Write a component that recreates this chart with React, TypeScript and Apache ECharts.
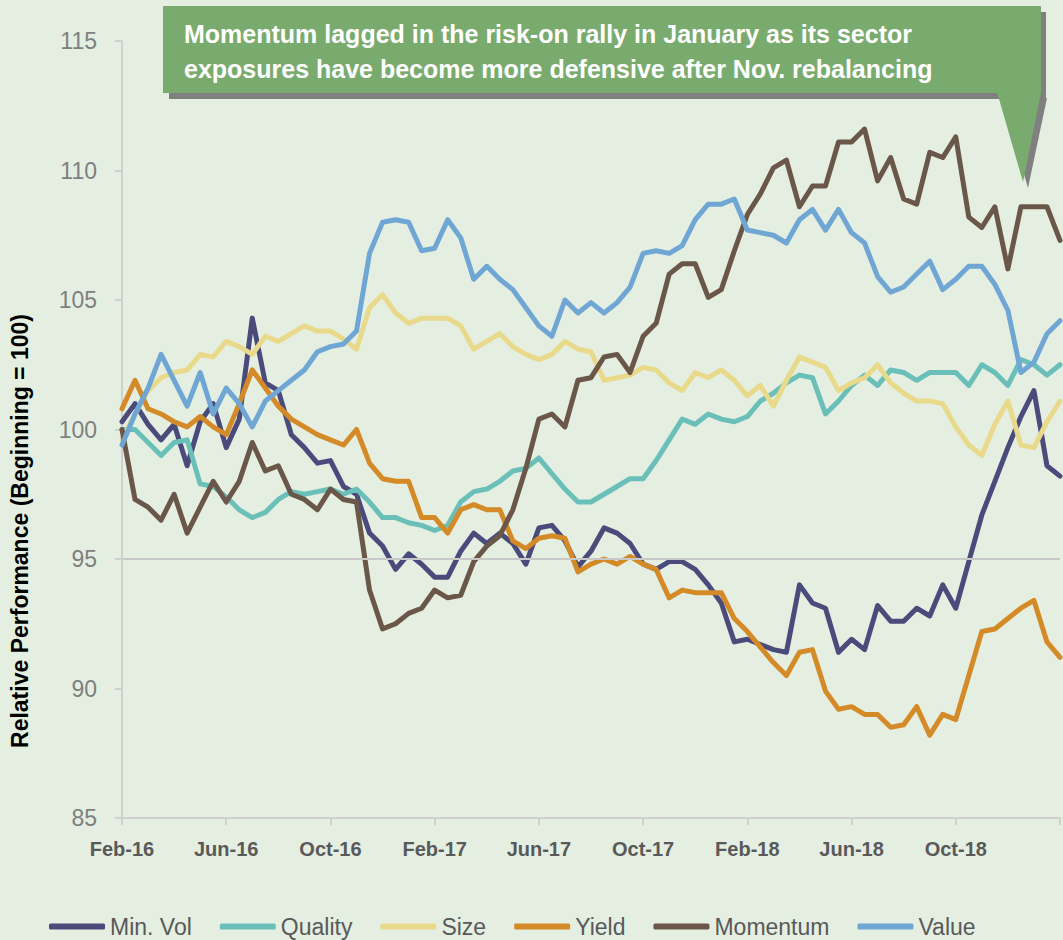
import React, { useEffect, useRef } from "react";
import * as echarts from "echarts";

// Half-month steps from Feb-16 (index 0) to Feb-19 (index 72)
const monthLabels = ["Feb-16", "Jun-16", "Oct-16", "Feb-17", "Jun-17", "Oct-17", "Feb-18", "Jun-18", "Oct-18", ""];

const minVol = [100.3, 101.0, 100.2, 99.6, 100.2, 98.6, 100.3, 101.0, 99.3, 100.4, 104.3, 101.8, 101.5, 99.8, 99.3, 98.7, 98.8, 97.8, 97.5, 96.0, 95.5, 94.6, 95.2, 94.8, 94.3,
  94.3, 95.3, 96.0, 95.6, 96.0, 95.6, 94.8, 96.2, 96.3, 95.7, 94.7, 95.3, 96.2, 96.0, 95.6, 94.8, 94.6, 94.9, 94.9, 94.6, 94.0, 93.3, 91.8,
  91.9, 91.7, 91.5, 91.4, 94.0, 93.3, 93.1, 91.4, 91.9, 91.5, 93.2, 92.6, 92.6, 93.1, 92.8, 94.0, 93.1, 94.9, 96.7, 98.0, 99.3, 100.5, 101.5, 98.6, 98.2];

const quality = [100.0, 100.0, 99.5, 99.0, 99.5, 99.6, 97.9, 97.8, 97.4, 96.9, 96.6, 96.8, 97.3, 97.6, 97.5, 97.6, 97.7, 97.5, 97.7, 97.2, 96.6, 96.6, 96.4, 96.3, 96.1,
  96.3, 97.2, 97.6, 97.7, 98.0, 98.4, 98.5, 98.9, 98.3, 97.7, 97.2, 97.2, 97.5, 97.8, 98.1, 98.1, 98.8, 99.6, 100.4, 100.2, 100.6, 100.4, 100.3, 100.5,
  101.1, 101.4, 101.8, 102.1, 102.0, 100.6, 101.1, 101.7, 102.1, 101.7, 102.3, 102.2, 101.9, 102.2, 102.2, 102.2, 101.7, 102.5, 102.2, 101.7, 102.7, 102.5, 102.1, 102.5];

const size = [99.6, 100.6, 101.5, 102.0, 102.2, 102.3, 102.9, 102.8, 103.4, 103.2, 102.9, 103.6, 103.4, 103.7, 104.0, 103.8, 103.8, 103.5, 103.1, 104.7, 105.2, 104.5, 104.1, 104.3, 104.3,
  104.3, 104.0, 103.1, 103.4, 103.7, 103.2, 102.9, 102.7, 102.9, 103.4, 103.1, 103.0, 101.9, 102.0, 102.1, 102.4, 102.3, 101.8, 101.5, 102.2, 102.0, 102.3, 101.9, 101.3,
  101.7, 100.9, 101.9, 102.8, 102.6, 102.4, 101.5, 101.8, 102.0, 102.5, 101.8, 101.4, 101.1, 101.1, 101.0, 100.1, 99.4, 99.0, 100.2, 101.1, 99.4, 99.3, 100.3, 101.1];

const yieldVals = [100.8, 101.9, 100.8, 100.6, 100.3, 100.1, 100.5, 100.1, 99.8, 101.0, 102.3, 101.6, 100.9, 100.4, 100.1, 99.8, 99.6, 99.4, 100.0, 98.7, 98.1, 98.0, 98.0, 96.6, 96.6,
  96.0, 96.9, 97.1, 96.9, 96.9, 95.7, 95.4, 95.8, 95.9, 95.8, 94.5, 94.8, 95.0, 94.8, 95.1, 94.8, 94.6, 93.5, 93.8, 93.7, 93.7, 93.7, 92.7,
  92.2, 91.6, 91.0, 90.5, 91.4, 91.5, 89.9, 89.2, 89.3, 89.0, 89.0, 88.5, 88.6, 89.3, 88.2, 89.0, 88.8, 90.5, 92.2, 92.3, 92.7, 93.1, 93.4, 91.8, 91.2];

const momentum = [100.0, 97.3, 97.0, 96.5, 97.5, 96.0, 97.0, 98.0, 97.2, 98.0, 99.5, 98.4, 98.6, 97.5, 97.3, 96.9, 97.7, 97.3, 97.2, 93.8, 92.3, 92.5, 92.9, 93.1, 93.8,
  93.5, 93.6, 94.9, 95.5, 95.9, 96.9, 98.5, 100.4, 100.6, 100.1, 101.9, 102.0, 102.8, 102.9, 102.2, 103.6, 104.1, 106.0, 106.4, 106.4, 105.1, 105.4, 106.9, 108.3,
  109.1, 110.1, 110.4, 108.6, 109.4, 109.4, 111.1, 111.1, 111.6, 109.6, 110.5, 108.9, 108.7, 110.7, 110.5, 111.3, 108.2, 107.8, 108.6, 106.2, 108.6, 108.6, 108.6, 107.3];

const value = [99.4, 100.6, 101.6, 102.9, 101.9, 100.9, 102.2, 100.6, 101.6, 101.0, 100.1, 101.1, 101.5, 101.9, 102.3, 103.0, 103.2, 103.3, 103.8, 106.8, 108.0, 108.1, 108.0, 106.9, 107.0,
  108.1, 107.4, 105.8, 106.3, 105.8, 105.4, 104.7, 104.0, 103.6, 105.0, 104.5, 104.9, 104.5, 104.9, 105.5, 106.8, 106.9, 106.8, 107.1, 108.1, 108.7, 108.7, 108.9, 107.7,
  107.6, 107.5, 107.2, 108.1, 108.5, 107.7, 108.5, 107.6, 107.2, 105.9, 105.3, 105.5, 106.0, 106.5, 105.4, 105.8, 106.3, 106.3, 105.6, 104.6, 102.2, 102.6, 103.7, 104.2];

const seriesNames = ["Min. Vol", "Quality", "Size", "Yield", "Momentum", "Value"];
const seriesValues = [minVol, quality, size, yieldVals, momentum, value];
const seriesColors = ["#4a4a7b", "#6bbfb9", "#e9d98b", "#d58a28", "#6b5749", "#6fa6d4"];

const calloutLines = [
  "Momentum lagged in the risk-on rally in January as its sector",
  "exposures have become more defensive after Nov. rebalancing",
];

const FONT = "'Liberation Sans', Arial, sans-serif";

export default function App() {
  const ref = useRef<HTMLDivElement>(null);

  useEffect(() => {
    if (!ref.current) return;
    const chart = echarts.init(ref.current, null, { renderer: "svg" });

    const lineSeries = seriesNames.map((name, k) => ({
      name,
      type: "line",
      data: seriesValues[k].map((v, i) => [i * 0.5, v]),
      showSymbol: false,
      symbol: "none",
      z: 3,
      lineStyle: { color: seriesColors[k], width: 5, cap: "round", join: "round" },
      itemStyle: { color: seriesColors[k] },
    }));

    const option = {
      animation: false,
      backgroundColor: "#e4efe2",
      textStyle: { fontFamily: FONT },
      grid: { left: 122, top: 41, right: 1, bottom: 122, containLabel: false },
      legend: {
        data: seriesNames,
        left: 44,
        top: 910,
        icon: "roundRect",
        itemWidth: 56,
        itemHeight: 6,
        itemGap: 28,
        textStyle: { color: "#595959", fontSize: 23, fontFamily: FONT },
      },
      xAxis: {
        type: "value",
        min: 0,
        max: 36,
        interval: 4,
        axisLine: { show: true, onZero: false, lineStyle: { color: "#d0d0d0", width: 2 } },
        axisTick: { show: true, length: 7, lineStyle: { color: "#d0d0d0", width: 2 } },
        splitLine: { show: false },
        axisLabel: {
          color: "#595959",
          fontSize: 20,
          fontWeight: "bold",
          fontFamily: FONT,
          margin: 21,
          formatter: (v: number) => monthLabels[Math.round(v / 4)] ?? "",
        },
      },
      yAxis: {
        type: "value",
        min: 85,
        max: 115,
        interval: 5,
        axisLine: { show: true, lineStyle: { color: "#d0d0d0", width: 2 } },
        axisTick: { show: true, length: 7, lineStyle: { color: "#d0d0d0", width: 2 } },
        splitLine: { show: false },
        axisLabel: { color: "#7f7f7f", fontSize: 23, fontFamily: FONT, margin: 25 },
      },
      series: [
        {
          name: "ref95",
          type: "line",
          data: [],
          z: 1,
          markLine: {
            silent: true,
            symbol: "none",
            label: { show: false },
            lineStyle: { color: "#c8c8c8", width: 2, type: "solid" },
            data: [{ yAxis: 95 }],
          },
        },
        ...lineSeries,
      ],
      graphic: [
        {
          type: "text",
          x: 20,
          y: 531,
          rotation: Math.PI / 2,
          style: {
            text: "Relative Performance (Beginning = 100)",
            fill: "#000000",
            font: `bold 23px ${FONT}`,
            align: "center",
            verticalAlign: "middle",
          },
          z: 10,
        },
        { type: "rect", shape: { x: 169, y: 12, width: 877, height: 87 }, style: { fill: "#808080" }, z: 20 },
        {
          type: "polygon",
          shape: { points: [[1002, 98], [1047, 98], [1028, 188]] },
          style: { fill: "#808080" },
          z: 20,
        },
        { type: "rect", shape: { x: 163, y: 6, width: 878, height: 87 }, style: { fill: "#7aab6e" }, z: 21 },
        {
          type: "polygon",
          shape: { points: [[997, 92], [1041, 92], [1023, 182]] },
          style: { fill: "#7aab6e" },
          z: 21,
        },
        ...calloutLines.map((t, i) => ({
          type: "text",
          x: 184,
          y: 34 + i * 35,
          style: {
            text: t,
            fill: "#ffffff",
            font: `bold 25px ${FONT}`,
            align: "left",
            verticalAlign: "middle",
          },
          z: 22,
        })),
      ],
    };

    chart.setOption(option as any);
    return () => chart.dispose();
  }, []);

  return (
    <div
      ref={ref}
      style={{ position: "absolute", left: 0, top: 0, width: 1063, height: 940, background: "#e4efe2" }}
    />
  );
}
